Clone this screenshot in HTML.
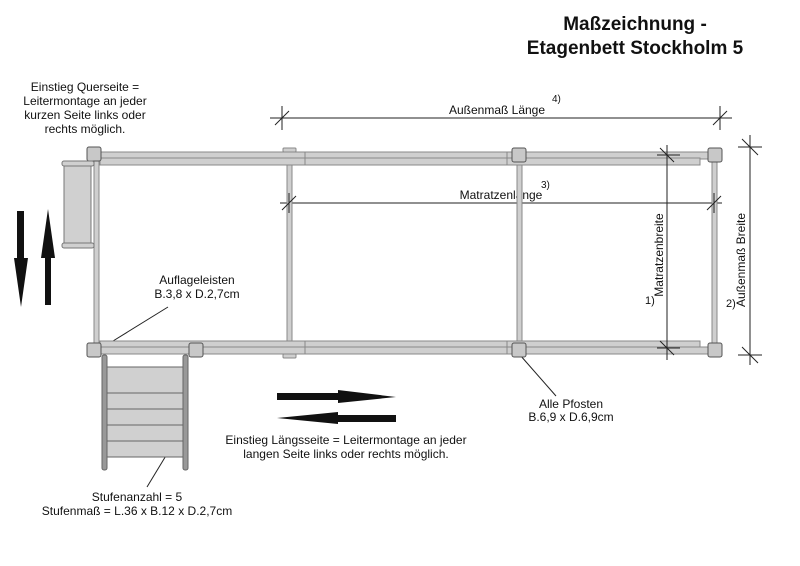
<!DOCTYPE html>
<html><head><meta charset="utf-8"><style>
html,body{margin:0;padding:0;background:#fff}
svg{display:block}
text{font-family:"Liberation Sans",Arial,sans-serif;fill:#111}
</style></head><body>
<svg width="800" height="566" viewBox="0 0 800 566" xmlns="http://www.w3.org/2000/svg">
<text x="635" y="30" font-size="19" font-weight="bold" text-anchor="middle">Maßzeichnung -</text>
<text x="635" y="54" font-size="19" font-weight="bold" text-anchor="middle">Etagenbett Stockholm 5</text>

<g font-size="12" text-anchor="middle">
<text x="85" y="91">Einstieg Querseite =</text>
<text x="85" y="105">Leitermontage an jeder</text>
<text x="85" y="119">kurzen Seite links oder</text>
<text x="85" y="133">rechts möglich.</text>
<text x="197" y="284">Auflageleisten</text>
<text x="197" y="298">B.3,8 x D.2,7cm</text>
<text x="571" y="408">Alle Pfosten</text>
<text x="571" y="421">B.6,9 x D.6,9cm</text>
<text x="346" y="444">Einstieg Längsseite = Leitermontage an jeder</text>
<text x="346" y="458">langen Seite links oder rechts möglich.</text>
<text x="137" y="501">Stufenanzahl = 5</text>
<text x="137" y="515">Stufenmaß = L.36 x B.12 x D.2,7cm</text>
<text x="497" y="114">Außenmaß Länge</text>
<text x="501" y="199">Matratzenlänge</text>
</g>
<text x="552" y="102" font-size="10">4)</text>
<text x="541" y="188" font-size="10">3)</text>
<text x="645" y="304" font-size="11">1)</text>
<text x="726" y="307" font-size="11">2)</text>

<!-- horizontal dimension lines -->
<g stroke="#222" stroke-width="1" fill="none">
<line x1="270" y1="118" x2="732" y2="118"/>
<line x1="282" y1="106" x2="282" y2="130"/><line x1="275" y1="125" x2="289" y2="111"/>
<line x1="720" y1="106" x2="720" y2="130"/><line x1="713" y1="125" x2="727" y2="111"/>
<line x1="280" y1="203" x2="722" y2="203"/>
<line x1="520" y1="355" x2="556" y2="396"/>
<line x1="113" y1="341" x2="168" y2="307"/>
<line x1="147" y1="487" x2="167" y2="454"/>
</g>

<!-- frame -->
<g fill="#cfcfcf" stroke="#888" stroke-width="1">
<rect x="94" y="160" width="5" height="188"/>
<rect x="287" y="160" width="5" height="188"/>
<rect x="517" y="160" width="5" height="188"/>
<rect x="712" y="160" width="5" height="188"/>
<rect x="100" y="152" width="608" height="7"/>
<rect x="100" y="158" width="600" height="7"/>
<rect x="100" y="341" width="600" height="7"/>
<rect x="100" y="347" width="608" height="7"/>
<line x1="305" y1="152" x2="305" y2="165"/><line x1="507" y1="152" x2="507" y2="165"/>
<line x1="305" y1="341" x2="305" y2="354"/><line x1="507" y1="341" x2="507" y2="354"/>
<rect x="283" y="148" width="13" height="4" rx="1"/>
<rect x="283" y="354" width="13" height="4" rx="1"/>
</g>
<g fill="#c8c8c8" stroke="#555" stroke-width="1">
<rect x="87" y="147" width="14" height="14" rx="2"/>
<rect x="87" y="343" width="14" height="14" rx="2"/>
<rect x="189" y="343" width="14" height="14" rx="2"/>
<rect x="512" y="148" width="14" height="14" rx="2"/>
<rect x="512" y="343" width="14" height="14" rx="2"/>
<rect x="708" y="148" width="14" height="14" rx="2"/>
<rect x="708" y="343" width="14" height="14" rx="2"/>
</g>

<!-- ticks & vertical dimension lines on top -->
<g stroke="#222" stroke-width="1" fill="none">
<line x1="289" y1="193" x2="289" y2="213"/><line x1="282" y1="210" x2="296" y2="196"/>
<line x1="714" y1="193" x2="714" y2="213"/><line x1="707" y1="210" x2="721" y2="196"/>
<line x1="667" y1="145" x2="667" y2="360"/>
<line x1="657" y1="155" x2="680" y2="155"/><line x1="660" y1="148" x2="674" y2="162"/>
<line x1="657" y1="348" x2="680" y2="348"/><line x1="660" y1="341" x2="674" y2="355"/>
<line x1="750" y1="135" x2="750" y2="365"/>
<line x1="738" y1="147" x2="762" y2="147"/><line x1="742" y1="139" x2="758" y2="155"/>
<line x1="738" y1="355" x2="762" y2="355"/><line x1="742" y1="347" x2="758" y2="363"/>
</g>
<text transform="translate(663,255) rotate(-90)" font-size="12" text-anchor="middle">Matratzenbreite</text>
<text transform="translate(745,260) rotate(-90)" font-size="12" text-anchor="middle">Außenmaß Breite</text>

<!-- left ladder -->
<g fill="#d0d0d0" stroke="#777" stroke-width="1">
<rect x="64" y="165" width="27" height="79"/>
<rect x="62" y="161" width="32" height="5" rx="2"/>
<rect x="62" y="243" width="32" height="5" rx="2"/>
</g>
<!-- bottom ladder -->
<g stroke="#666" stroke-width="1">
<rect x="107" y="367" width="76" height="90" fill="#d0d0d0"/>
<line x1="107" y1="393" x2="183" y2="393"/>
<line x1="107" y1="409" x2="183" y2="409"/>
<line x1="107" y1="425" x2="183" y2="425"/>
<line x1="107" y1="441" x2="183" y2="441"/>
<rect x="102" y="355" width="5" height="115" rx="2" fill="#999"/>
<rect x="183" y="355" width="5" height="115" rx="2" fill="#999"/>
</g>
<!-- arrows -->
<g fill="#111">
<polygon points="17,211 24,211 24,258 28,258 21,307 14,258 17,258"/>
<polygon points="45,305 51,305 51,258 55,258 48,209 41,258 45,258"/>
<polygon points="277,393 338,393 338,390 396,397 338,403 338,400 277,400"/>
<polygon points="396,415 338,415 338,412 277,418 338,424 338,422 396,422"/>
</g>
</svg>
</body></html>
